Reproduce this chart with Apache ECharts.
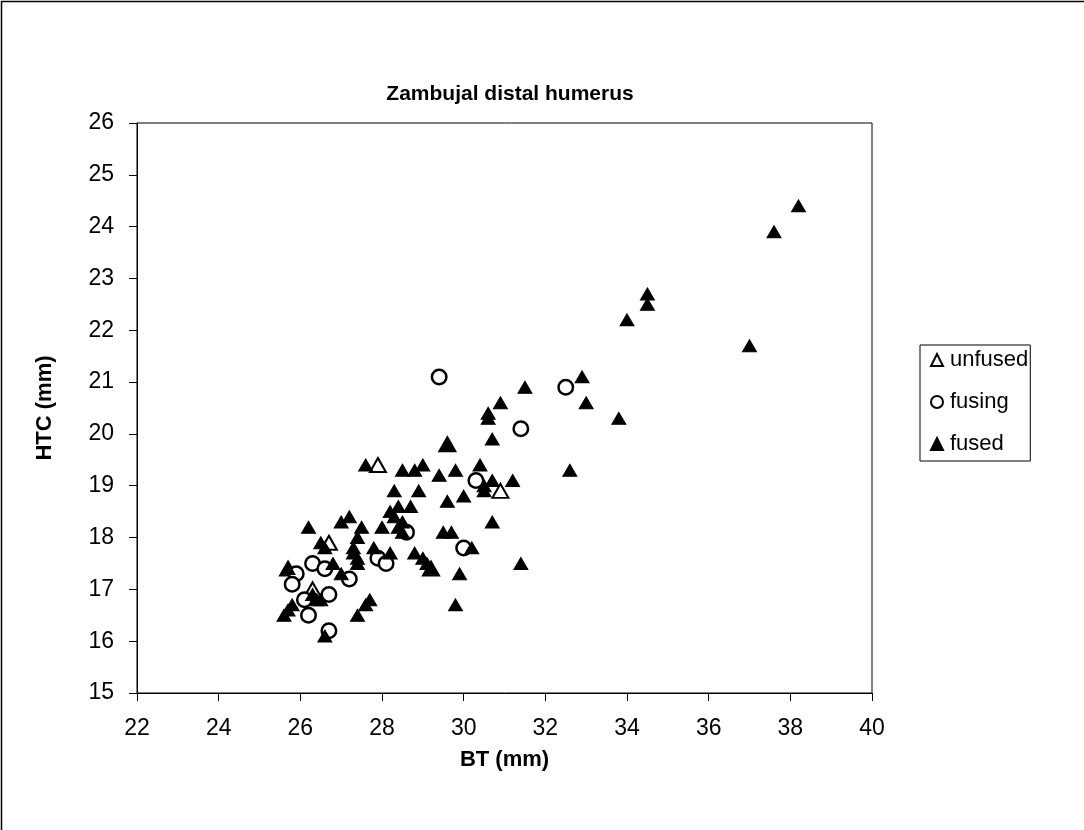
<!DOCTYPE html>
<html>
<head>
<meta charset="utf-8">
<script src="https://cdn.jsdelivr.net/npm/echarts@6/dist/echarts.min.js"></script>
<style>
  html, body { margin: 0; padding: 0; background: #fff; }
  #chart { width: 1084px; height: 830px; }
</style>
</head>
<body>
<div id="chart"></div>
<script>
// Distal humerus measurements: [BT (mm), HTC (mm)]
const unfused = [
  [27.9, 19.4], [30.9, 18.9], [26.7, 17.9], [29.6, 19.8], [29.2, 17.4],
  [25.7, 17.4], [26.3, 17.0]
];

const fusing = [
  [29.4, 21.1], [32.5, 20.9], [31.4, 20.1], [30.3, 19.1], [28.6, 18.1],
  [30.0, 17.8], [27.9, 17.6], [28.1, 17.5], [26.3, 17.5], [26.6, 17.4],
  [27.2, 17.2], [25.9, 17.3], [25.8, 17.1], [26.7, 16.9], [26.1, 16.8],
  [26.2, 16.5], [26.7, 16.2]
];

const fused = [
  [38.2, 24.4], [37.6, 23.9], [34.5, 22.7], [34.5, 22.5], [37.0, 21.7], [34.0, 22.2],
  [32.9, 21.1], [33.0, 20.6], [33.8, 20.3], [32.6, 19.3], [31.5, 20.9], [30.9, 20.6],
  [30.6, 20.4], [30.6, 20.3], [30.7, 19.9], [29.6, 19.8],
  [27.6, 19.4], [28.5, 19.3], [28.8, 19.3], [29.0, 19.4], [29.4, 19.2], [29.8, 19.3],
  [30.4, 19.4], [30.5, 19.0], [30.7, 19.1], [31.2, 19.1], [30.5, 18.9],
  [28.3, 18.9], [28.9, 18.9], [29.6, 18.7], [30.0, 18.8], [30.7, 18.3], [28.4, 18.6],
  [28.2, 18.5], [28.7, 18.6], [28.3, 18.4], [28.5, 18.3], [28.4, 18.2], [28.5, 18.1],
  [28.0, 18.2], [26.2, 18.2], [27.0, 18.3], [27.2, 18.4], [27.5, 18.2], [27.4, 18.0],
  [27.3, 17.8], [27.3, 17.7], [27.4, 17.6], [27.4, 17.5],
  [26.5, 17.9], [26.6, 17.8], [26.8, 17.5], [27.0, 17.3], [27.8, 17.8], [28.2, 17.7],
  [28.8, 17.7], [29.0, 17.6], [29.1, 17.5], [29.2, 17.4],
  [29.5, 18.1], [29.7, 18.1], [30.2, 17.8], [29.9, 17.3], [29.8, 16.7], [31.4, 17.5],
  [27.7, 16.8], [27.6, 16.7], [27.4, 16.5], [26.6, 16.1], [25.6, 16.5], [25.7, 16.6],
  [25.8, 16.7], [26.3, 16.9], [26.4, 16.8], [26.5, 16.8], [25.7, 17.4]
];

const xTicks = { min: 22, max: 40, step: 2 };
const yTicks = { min: 15, max: 26, step: 1 };

const FONT = '"Liberation Sans", Arial, sans-serif';

const chart = echarts.init(document.getElementById('chart'), null, { renderer: 'canvas' });

chart.setOption({
  backgroundColor: '#fff',
  animation: false,
  textStyle: { fontFamily: FONT, color: '#000' },
  title: {
    text: 'Zambujal distal humerus',
    left: 505, top: 79, textAlign: 'center',
    textStyle: { fontFamily: FONT, fontSize: 21, fontWeight: 'bold', color: '#000' }
  },
  graphic: [{
    type: 'rect',
    shape: { x: 1.5, y: 1.5, width: 1200, height: 1000 },
    style: { fill: 'none', stroke: '#000', lineWidth: 1.5 },
    silent: true
  }],
  grid: {
    left: 137, top: 123, width: 735, height: 570,
    show: true, borderColor: '#000', borderWidth: 1, backgroundColor: '#fff'
  },
  legend: {
    orient: 'vertical',
    left: 920, top: 345,
    padding: [4, 2, 6, 10],
    itemGap: 20,
    itemWidth: 12, itemHeight: 12,
    borderColor: '#000', borderWidth: 1,
    textStyle: { fontFamily: FONT, fontSize: 22, color: '#000', padding: [0, 0, 0, 2] },
    data: ['unfused', 'fusing', 'fused']
  },
  xAxis: {
    type: 'value',
    min: xTicks.min, max: xTicks.max, interval: xTicks.step,
    name: 'BT (mm)', nameLocation: 'middle', nameGap: 56,
    nameTextStyle: { fontFamily: FONT, fontSize: 22, fontWeight: 'bold', color: '#000' },
    axisLine: { show: true, lineStyle: { color: '#000', width: 1 } },
    axisTick: { show: true, inside: false, length: 8, lineStyle: { color: '#000' } },
    axisLabel: { fontFamily: FONT, fontSize: 23, color: '#000', margin: 24 },
    splitLine: { show: false }
  },
  yAxis: {
    type: 'value',
    min: yTicks.min, max: yTicks.max, interval: yTicks.step,
    name: 'HTC (mm)', nameLocation: 'middle', nameGap: 81, nameRotate: 90,
    nameTextStyle: { fontFamily: FONT, fontSize: 22, fontWeight: 'bold', color: '#000' },
    axisLine: { show: true, lineStyle: { color: '#000', width: 1 } },
    axisTick: { show: true, inside: false, length: 8, lineStyle: { color: '#000' } },
    axisLabel: { fontFamily: FONT, fontSize: 23, color: '#000', margin: 23 },
    splitLine: { show: false }
  },
  series: [
    {
      name: 'unfused', type: 'scatter', data: unfused,
      symbol: 'triangle', symbolSize: [16, 14],
      itemStyle: { color: '#fff', borderColor: '#000', borderWidth: 2, opacity: 1 },
      z: 2
    },
    {
      name: 'fusing', type: 'scatter', data: fusing,
      symbol: 'circle', symbolSize: 14.5,
      itemStyle: { color: '#fff', borderColor: '#000', borderWidth: 2.5, opacity: 1 },
      z: 3
    },
    {
      name: 'fused', type: 'scatter', data: fused,
      symbol: 'triangle', symbolSize: [14, 12],
      itemStyle: { color: '#000', borderColor: '#000', borderWidth: 1, opacity: 1 },
      z: 4
    }
  ]
});
</script>
</body>
</html>
